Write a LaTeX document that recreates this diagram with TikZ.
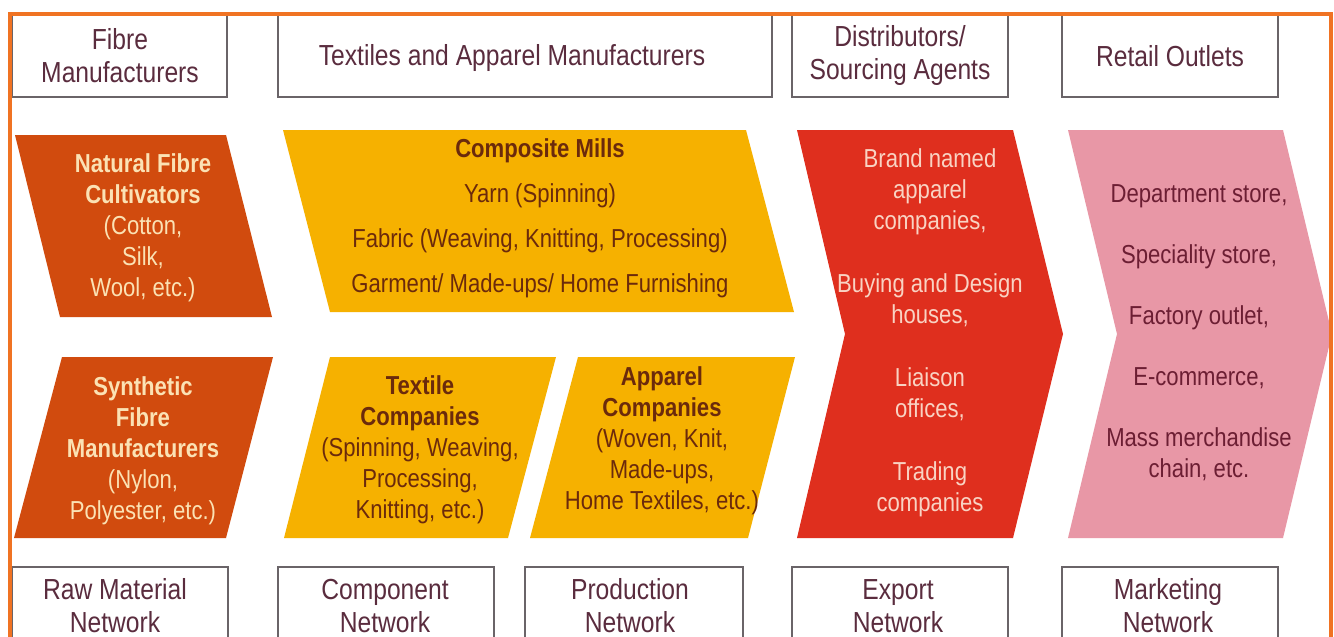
\documentclass[tikz,border=0pt]{standalone}
\usepackage{fontspec}
\setmainfont{Liberation Sans}[FakeStretch=0.85]
\definecolor{frameorange}{HTML}{F07323}
\definecolor{boxline}{HTML}{6A6468}
\definecolor{boxtxt}{HTML}{5A2C3E}
\definecolor{fibrefill}{HTML}{D14B0E}
\definecolor{fibretxt}{HTML}{FBE2B4}
\definecolor{millfill}{HTML}{F6B100}
\definecolor{milltxt}{HTML}{6B2A0C}
\definecolor{exportfill}{HTML}{DF2F1E}
\definecolor{exporttxt}{HTML}{F9D3C3}
\definecolor{retailfill}{HTML}{E897A6}
\definecolor{retailtxt}{HTML}{6C1E33}
\begin{document}
\begin{tikzpicture}[x=0.5pt,y=-0.5pt,
  box/.style={draw=boxline, line width=1pt},
  lbl/.style={align=center, text=boxtxt, inner sep=0pt, font=\fontsize{14.5}{16.5}\selectfont},
  intext/.style={align=center, inner sep=0pt, font=\fontsize{13}{15.5}\selectfont}]
\clip (0,0) rectangle (1334,637);
\fill[white] (0,0) rectangle (1334,637);

% header boxes
\draw[box] (12,13) rectangle (227,97);
\draw[box] (278,13) rectangle (772,97);
\draw[box] (792,13) rectangle (1008,97);
\draw[box] (1062,13) rectangle (1278,97);
\node[lbl] (hfibre) at (120,56) {Fibre\\Manufacturers};
\node[lbl] (htex) at (512,58) {Textiles and Apparel Manufacturers};
\node[lbl] (hdist) at (900,56) {Distributors/\\Sourcing Agents};
\node[lbl] (hret) at (1170,56) {Retail Outlets};

% footer boxes
\draw[box] (12,567) rectangle (228,660);
\draw[box] (278,567) rectangle (494,660);
\draw[box] (525,567) rectangle (743,660);
\draw[box] (792,567) rectangle (1008,660);
\draw[box] (1062,567) rectangle (1278,660);
\node[lbl] (fraw) at (115,606) {Raw Material\\Network};
\node[lbl] (fcomp) at (385,606) {Component\\Network};
\node[lbl] (fprod) at (630,606) {Production\\Network};
\node[lbl] (fexp) at (898,606) {Export\\Network};
\node[lbl] (fmkt) at (1168,606) {Marketing\\Network};

% fibre shapes
\fill[fibrefill] (15,135) -- (226,135) -- (272,317) -- (60,317) -- cycle;
\fill[fibrefill] (62,357) -- (273,357) -- (226,538) -- (14,538) -- cycle;
\node[intext, text=fibretxt] (natural) at (143,228)
  {\textbf{Natural Fibre}\\\textbf{Cultivators}\\(Cotton,\\Silk,\\Wool, etc.)};
\node[intext, text=fibretxt] (synthetic) at (143,451)
  {\textbf{Synthetic}\\\textbf{Fibre}\\\textbf{Manufacturers}\\(Nylon,\\Polyester, etc.)};

% mill shapes
\fill[millfill] (283,130) -- (746,130) -- (794,312) -- (330,312) -- cycle;
\fill[millfill] (330,357) -- (556,357) -- (508,538) -- (284,538) -- cycle;
\fill[millfill] (578,357) -- (795,357) -- (748,538) -- (530,538) -- cycle;
\node[intext, text=milltxt, font=\fontsize{13}{22.5}\selectfont] (composite) at (540,218)
  {\textbf{Composite Mills}\\Yarn (Spinning)\\Fabric (Weaving, Knitting, Processing)\\Garment/ Made-ups/ Home Furnishing};
\node[intext, text=milltxt] (textile) at (420,450)
  {\textbf{Textile}\\\textbf{Companies}\\(Spinning, Weaving,\\Processing,\\Knitting, etc.)};
\node[intext, text=milltxt] (apparel) at (662,441)
  {\textbf{Apparel}\\\textbf{Companies}\\(Woven, Knit,\\Made-ups,\\Home Textiles, etc.)};

% export chevron
\fill[exportfill] (797,130) -- (1013,130) -- (1063,334) -- (1013,538) -- (797,538) -- (845,334) -- cycle;
\node[intext, text=exporttxt] (export) at (930,333)
  {Brand named\\apparel\\companies,\\[16pt]Buying and Design\\houses,\\[16pt]Liaison\\offices,\\[16pt]Trading\\companies};

% retail chevron
\fill[retailfill] (1068,130) -- (1283,130) -- (1332,334) -- (1283,538) -- (1068,538) -- (1117,334) -- cycle;
\node[intext, text=retailtxt] (retail) at (1199,333)
  {Department store,\\[15pt]Speciality store,\\[15pt]Factory outlet,\\[15pt]E-commerce,\\[15pt]Mass merchandise\\chain, etc.};

% frame
\draw[frameorange, line width=2pt] (10,700) -- (10,13.5) -- (1331,13.5) -- (1331,700);
\end{tikzpicture}
\end{document}
